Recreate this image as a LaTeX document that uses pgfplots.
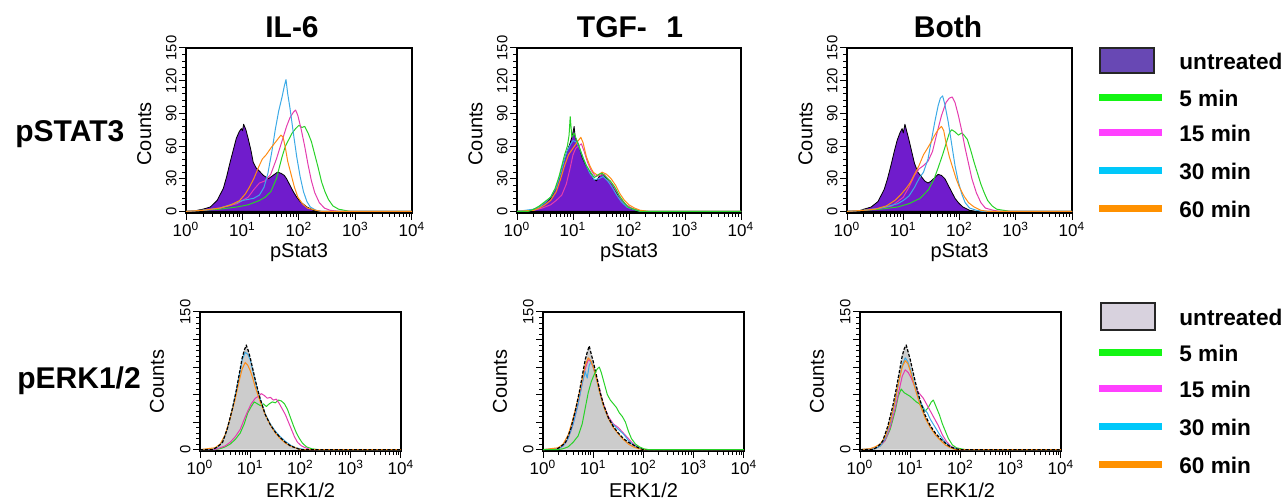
\documentclass[border=0pt]{standalone}
\usepackage{fontspec}
\setmainfont{Liberation Sans}
\usepackage{pgfplots}
\pgfplotsset{compat=1.18}
\usepackage{pgfplotstable}

\definecolor{purpfill}{RGB}{112,28,204}
\definecolor{legpurp}{RGB}{104,72,180}
\definecolor{grayfill}{RGB}{204,204,204}
\definecolor{leggray}{RGB}{216,210,222}
\definecolor{cgreen}{RGB}{40,210,40}
\definecolor{cmag}{RGB}{228,60,175}
\definecolor{ccyan}{RGB}{60,170,230}
\definecolor{corange}{RGB}{255,140,20}
\definecolor{lgreen}{RGB}{20,245,20}
\definecolor{lmag}{RGB}{255,64,255}
\definecolor{lcyan}{RGB}{0,200,250}
\definecolor{lorange}{RGB}{255,145,0}

% untreated histograms (x = log10 of intensity, y = counts)
\pgfplotstableread{
x y
0 0
0.15 0
0.2 1
0.3 2
0.43 4
0.55 10
0.66 21
0.72 32
0.78 45
0.84 57
0.89 67
0.94 73
0.98 76
1.0 74
1.02 80
1.06 75
1.1 67
1.15 56
1.19 45
1.24 40
1.28 38
1.37 33
1.46 30
1.54 33
1.62 36
1.68 35
1.74 33
1.78 30
1.84 24
1.9 18
1.96 13
2.02 9
2.14 4
2.26 1
2.35 0
4 0
}\UstatIL

\pgfplotstableread{
x y
0 0
0.2 0
0.3 2
0.4 4
0.5 8
0.6 12
0.68 20
0.75 30
0.8 40
0.85 48
0.9 56
0.95 63
0.99 70
1.02 78
1.04 68
1.08 64
1.12 57
1.16 50
1.22 43
1.3 36
1.36 30
1.42 28
1.48 33
1.54 34
1.6 30
1.66 28
1.72 23
1.8 15
1.88 10
1.96 5
2.05 2
2.15 1
2.3 0
4 0
}\UstatTGF

\pgfplotstableread{
x y
0 0
0.2 0
0.3 2
0.43 4
0.55 9
0.66 20
0.72 30
0.78 42
0.84 55
0.89 65
0.94 72
0.98 76
1.0 72
1.03 80
1.06 74
1.1 66
1.15 55
1.2 44
1.26 36
1.32 32
1.38 28
1.44 26
1.5 28
1.56 31
1.62 34
1.68 33
1.74 30
1.8 24
1.86 18
1.92 12
1.98 8
2.06 4
2.18 1
2.3 0
4 0
}\UstatBoth

\pgfplotstableread{
x y
0 0
0.25 0
0.35 3
0.45 8
0.55 24
0.65 46
0.72 64
0.78 82
0.84 100
0.88 108
0.92 114
0.96 108
1.0 100
1.05 88
1.1 76
1.15 65
1.2 55
1.3 38
1.4 27
1.5 19
1.6 13
1.7 8
1.8 4
1.9 2
2.0 0
4 0
}\UerkIL

\pgfplotstableread{
x y
0 0
0.25 0
0.35 3
0.45 8
0.55 22
0.65 44
0.72 62
0.78 80
0.84 98
0.88 106
0.92 113
0.96 104
1.0 96
1.05 84
1.1 72
1.15 60
1.2 50
1.3 35
1.4 25
1.5 18
1.6 12
1.7 8
1.8 5
1.9 2
2.0 0
4 0
}\UerkTGF

\pgfplotstableread{
x y
0 0
0.25 0
0.35 3
0.45 9
0.55 25
0.65 47
0.72 66
0.78 84
0.84 102
0.88 110
0.92 114
0.96 106
1.0 98
1.05 86
1.1 74
1.15 63
1.2 53
1.3 37
1.4 26
1.5 18
1.6 12
1.7 7
1.8 3
1.9 1
2.0 0
4 0
}\UerkBoth

\pgfplotsset{
  flow/.style={
    scale only axis, anchor=south west,
    xmin=0, xmax=4, ymin=-1.5, ymax=150,
    axis line style={line width=0.9pt},
    tick align=outside, xtick pos=left, ytick pos=left,
    xtick={0,1,2,3,4},
    xticklabels={10\textsuperscript{0},10\textsuperscript{1},10\textsuperscript{2},10\textsuperscript{3},10\textsuperscript{4}},
    minor xtick={0.301,0.477,0.602,0.699,0.778,0.845,0.903,0.954,
      1.301,1.477,1.602,1.699,1.778,1.845,1.903,1.954,
      2.301,2.477,2.602,2.699,2.778,2.845,2.903,2.954,
      3.301,3.477,3.602,3.699,3.778,3.845,3.903,3.954},
    major tick length=3.5pt, minor tick length=2pt,
    every tick/.style={black, line width=0.5pt},
    /pgf/number format/assume math mode=true,
    xticklabel style={font=\fontsize{8.5}{9}\selectfont, inner sep=1pt},
    yticklabel style={font=\fontsize{7.4}{8}\selectfont, rotate=90, anchor=south, inner sep=1pt},
    label style={font=\fontsize{8.5}{9}\selectfont},
    ylabel={Counts},
    every axis plot/.append style={line width=0.5pt, line join=round},
  },
  toprow/.style={flow, width=113pt, height=82.5pt,
    ytick={0,30,60,90,120,150}, minor y tick num=4, xlabel={pStat3},
    every axis y label/.style={at={(axis description cs:-0.185,0.48)}, rotate=90, anchor=center},
    every axis x label/.style={at={(axis description cs:0.5,-0.242)}, anchor=center},
  },
  botrow/.style={flow, width=100.5pt, height=69.5pt,
    ytick={0,30,60,90,120,150}, yticklabels={0,,,,,150}, minor y tick num=4, xlabel={ERK1/2},
    every axis y label/.style={at={(axis description cs:-0.214,0.5)}, rotate=90, anchor=center},
    every axis x label/.style={at={(axis description cs:0.5,-0.28)}, anchor=center},
  },
}

\begin{document}
\begin{tikzpicture}
\path[use as bounding box] (0,0) rectangle (643pt,251pt);

% ---------- pSTAT3 row ----------
\begin{axis}[toprow, at={(93pt,144.5pt)}]
\addplot[fill=purpfill, draw=black, line width=0.4pt] table {\UstatIL} \closedcycle;
\addplot[cgreen] coordinates {(0,0)(0.3,1)(0.6,2)(0.9,4)(1.1,6)(1.3,10)(1.4,13)(1.5,18)(1.6,30)(1.7,50)(1.76,60)(1.82,66)(1.88,72)(1.94,76)(2.0,79)(2.05,77)(2.1,78)(2.16,72)(2.22,64)(2.28,52)(2.34,40)(2.4,27)(2.46,18)(2.52,11)(2.6,5)(2.7,2)(2.8,1)(2.9,0)(4,0)};
\addplot[cmag] coordinates {(0,0)(0.3,1)(0.6,3)(0.9,7)(1.1,13)(1.2,20)(1.3,26)(1.4,28)(1.5,34)(1.6,48)(1.66,58)(1.72,68)(1.78,78)(1.84,86)(1.9,91)(1.94,93)(1.98,88)(2.04,75)(2.1,60)(2.16,43)(2.22,28)(2.28,17)(2.36,8)(2.45,3)(2.55,1)(2.7,0)(4,0)};
\addplot[ccyan] coordinates {(0,0)(0.3,1)(0.6,3)(0.9,8)(1.0,10)(1.1,11)(1.2,12)(1.3,15)(1.38,22)(1.45,35)(1.52,55)(1.58,75)(1.64,92)(1.7,105)(1.74,115)(1.77,121)(1.8,108)(1.84,95)(1.9,72)(1.96,50)(2.02,32)(2.08,18)(2.14,9)(2.2,4)(2.3,1)(2.4,0)(4,0)};
\addplot[corange] coordinates {(0,0)(0.3,1)(0.6,3)(0.8,6)(0.95,10)(1.05,16)(1.12,22)(1.2,30)(1.28,40)(1.35,48)(1.42,52)(1.5,58)(1.56,62)(1.62,66)(1.68,70)(1.72,68)(1.76,58)(1.8,46)(1.86,34)(1.92,22)(1.98,13)(2.06,7)(2.15,3)(2.3,1)(2.4,0)(4,0)};
\end{axis}

\begin{axis}[toprow, at={(258.5pt,144.5pt)}, width=112pt]
\addplot[fill=purpfill, draw=black, line width=0.4pt] table {\UstatTGF} \closedcycle;
\addplot[cmag] coordinates {(0,0)(0.3,1)(0.45,3)(0.6,6)(0.7,10)(0.8,15)(0.88,25)(0.95,40)(1.0,52)(1.05,58)(1.1,60)(1.15,62)(1.2,55)(1.26,45)(1.32,38)(1.4,32)(1.48,33)(1.56,34)(1.62,30)(1.7,25)(1.78,18)(1.86,11)(1.95,6)(2.05,3)(2.15,1)(2.3,0)(4,0)};
\addplot[ccyan] coordinates {(0,0)(0.3,2)(0.4,4)(0.5,8)(0.6,13)(0.7,22)(0.78,35)(0.85,48)(0.9,56)(0.96,62)(1.0,65)(1.05,64)(1.1,60)(1.16,52)(1.22,44)(1.3,35)(1.38,29)(1.46,30)(1.54,32)(1.62,28)(1.7,22)(1.78,15)(1.86,9)(1.96,4)(2.06,2)(2.2,0)(4,0)};
\addplot[corange] coordinates {(0,0)(0.3,1)(0.4,3)(0.5,6)(0.6,10)(0.7,18)(0.78,30)(0.85,42)(0.92,52)(1.0,58)(1.08,64)(1.14,68)(1.18,63)(1.24,50)(1.3,42)(1.36,36)(1.44,33)(1.52,36)(1.6,34)(1.68,30)(1.76,24)(1.84,16)(1.92,10)(2.0,6)(2.1,3)(2.2,1)(2.35,0)(4,0)};
\addplot[cgreen] coordinates {(0,0)(0.2,0)(0.3,2)(0.4,5)(0.5,9)(0.6,13)(0.68,21)(0.75,32)(0.8,42)(0.85,52)(0.9,60)(0.93,70)(0.95,87)(0.98,68)(1.02,72)(1.06,66)(1.12,58)(1.18,49)(1.24,42)(1.3,37)(1.38,31)(1.46,34)(1.52,35)(1.6,31)(1.68,27)(1.75,22)(1.82,15)(1.9,9)(1.98,4)(2.08,2)(2.2,0)(4,0)};
\end{axis}

\begin{axis}[toprow, at={(423.5pt,144.5pt)}, width=112.5pt]
\addplot[fill=purpfill, draw=black, line width=0.4pt] table {\UstatBoth} \closedcycle;
\addplot[cgreen] coordinates {(0,0)(0.3,1)(0.6,2)(0.9,4)(1.1,7)(1.3,12)(1.45,20)(1.55,30)(1.62,40)(1.7,52)(1.76,62)(1.82,72)(1.86,75)(1.92,73)(1.98,70)(2.04,72)(2.08,70)(2.14,66)(2.2,56)(2.26,45)(2.32,35)(2.38,25)(2.44,17)(2.5,10)(2.58,5)(2.66,2)(2.78,1)(2.9,0)(4,0)};
\addplot[cmag] coordinates {(0,0)(0.3,1)(0.6,3)(0.8,5)(1.0,13)(1.1,22)(1.2,33)(1.28,39)(1.36,42)(1.44,46)(1.52,55)(1.6,72)(1.68,88)(1.76,100)(1.82,104)(1.87,105)(1.92,100)(1.98,88)(2.04,74)(2.1,58)(2.16,44)(2.22,30)(2.3,17)(2.38,8)(2.46,3)(2.6,1)(2.7,0)(4,0)};
\addplot[ccyan] coordinates {(0,0)(0.3,1)(0.6,3)(0.9,7)(1.0,10)(1.1,14)(1.2,22)(1.28,30)(1.36,36)(1.44,48)(1.5,65)(1.56,82)(1.62,97)(1.66,104)(1.7,106)(1.74,98)(1.8,82)(1.86,62)(1.92,42)(1.98,27)(2.04,16)(2.1,8)(2.18,3)(2.3,1)(2.4,0)(4,0)};
\addplot[corange] coordinates {(0,0)(0.3,1)(0.5,2)(0.7,5)(0.85,10)(0.95,15)(1.05,21)(1.12,26)(1.2,34)(1.28,42)(1.36,52)(1.42,57)(1.5,64)(1.56,70)(1.62,75)(1.68,78)(1.72,74)(1.76,63)(1.82,50)(1.88,40)(1.94,30)(2.0,22)(2.08,14)(2.16,8)(2.26,4)(2.38,1)(2.5,0)(4,0)};
\end{axis}

% ---------- pERK1/2 row ----------
\begin{axis}[botrow, at={(100pt,25.5pt)}]
\addplot[fill=grayfill, draw=none] table {\UerkIL} \closedcycle;
\addplot[cgreen] coordinates {(0,0)(0.3,0)(0.4,1)(0.5,3)(0.6,6)(0.7,11)(0.8,18)(0.88,28)(0.95,40)(1.02,47)(1.08,52)(1.14,50)(1.2,48)(1.26,50)(1.32,47)(1.38,50)(1.44,52)(1.5,51)(1.56,54)(1.62,53)(1.68,50)(1.74,44)(1.8,35)(1.86,26)(1.92,18)(1.98,12)(2.04,7)(2.12,3)(2.22,1)(2.35,0)(4,0)};
\addplot[cmag] coordinates {(0,0)(0.3,0)(0.4,2)(0.5,4)(0.6,8)(0.7,14)(0.8,22)(0.88,33)(0.95,42)(1.02,50)(1.1,56)(1.16,58)(1.22,61)(1.28,59)(1.34,56)(1.4,57)(1.46,54)(1.52,55)(1.58,50)(1.64,44)(1.7,38)(1.76,30)(1.82,22)(1.88,14)(1.94,8)(2.02,4)(2.1,2)(2.2,0)(4,0)};
\addplot[ccyan] coordinates {(0,0)(0.3,1)(0.4,5)(0.5,15)(0.6,34)(0.7,58)(0.78,80)(0.84,98)(0.9,106)(0.95,104)(1.0,98)(1.05,86)(1.1,74)(1.2,55)(1.3,39)(1.4,28)(1.5,20)(1.6,14)(1.7,9)(1.8,5)(1.9,2)(2.0,1)(2.1,0)(4,0)};
\addplot[corange] coordinates {(0,0)(0.3,2)(0.4,6)(0.5,16)(0.6,34)(0.7,55)(0.78,75)(0.84,88)(0.9,95)(0.95,92)(1.0,86)(1.05,78)(1.1,68)(1.2,52)(1.3,38)(1.4,27)(1.5,18)(1.6,12)(1.7,7)(1.8,4)(1.9,2)(2.0,0)(4,0)};
\addplot[black, dash pattern=on 1.6pt off 0.8pt, line width=0.6pt] table {\UerkIL};
\end{axis}

\begin{axis}[botrow, at={(271.5pt,25.5pt)}]
\addplot[fill=grayfill, draw=none] table {\UerkTGF} \closedcycle;
\addplot[cmag] coordinates {(0,0)(0.3,1)(0.4,4)(0.5,12)(0.6,28)(0.7,50)(0.78,72)(0.84,88)(0.9,98)(0.95,96)(1.0,90)(1.06,80)(1.12,66)(1.2,50)(1.3,36)(1.4,28)(1.5,24)(1.6,18)(1.7,12)(1.8,6)(1.9,2)(2.0,0)(4,0)};
\addplot[ccyan] coordinates {(0,0)(0.3,1)(0.4,4)(0.5,12)(0.6,28)(0.7,50)(0.78,72)(0.84,85)(0.88,78)(0.92,92)(0.96,96)(1.0,90)(1.06,78)(1.12,64)(1.2,48)(1.3,34)(1.4,27)(1.5,22)(1.6,17)(1.7,10)(1.8,5)(1.9,2)(2.0,0)(4,0)};
\addplot[corange] coordinates {(0,0)(0.3,2)(0.4,6)(0.5,16)(0.6,34)(0.7,56)(0.78,76)(0.84,92)(0.9,100)(0.95,97)(1.0,90)(1.06,78)(1.12,64)(1.2,48)(1.3,34)(1.4,24)(1.5,17)(1.6,11)(1.7,6)(1.8,3)(1.9,1)(2.0,0)(4,0)};
\addplot[black, dash pattern=on 1.6pt off 0.8pt, line width=0.6pt] table {\UerkTGF};
\addplot[cgreen] coordinates {(0,0)(0.3,0)(0.4,1)(0.5,3)(0.6,8)(0.7,15)(0.78,28)(0.85,48)(0.9,62)(0.96,74)(1.02,82)(1.08,88)(1.12,90)(1.16,84)(1.22,72)(1.28,60)(1.34,54)(1.4,50)(1.46,46)(1.52,40)(1.58,36)(1.64,30)(1.7,20)(1.76,12)(1.84,6)(1.92,3)(2.0,1)(2.1,0)(4,0)};
\end{axis}

\begin{axis}[botrow, at={(430pt,25.5pt)}]
\addplot[fill=grayfill, draw=none] table {\UerkBoth} \closedcycle;
\addplot[cgreen] coordinates {(0,0)(0.3,1)(0.4,4)(0.5,10)(0.6,22)(0.7,42)(0.76,58)(0.82,66)(0.88,62)(0.94,60)(1.0,58)(1.06,55)(1.12,52)(1.18,50)(1.24,46)(1.3,42)(1.36,46)(1.42,52)(1.46,54)(1.52,46)(1.58,38)(1.64,28)(1.7,20)(1.76,12)(1.84,5)(1.92,2)(2.0,1)(2.1,0)(4,0)};
\addplot[cmag] coordinates {(0,0)(0.3,1)(0.4,4)(0.5,10)(0.6,24)(0.7,45)(0.78,65)(0.84,80)(0.9,87)(0.96,84)(1.02,78)(1.08,70)(1.14,64)(1.2,60)(1.26,56)(1.32,50)(1.4,42)(1.48,34)(1.56,26)(1.64,16)(1.72,9)(1.8,4)(1.9,1)(2.0,0)(4,0)};
\addplot[ccyan] coordinates {(0,0)(0.3,1)(0.4,4)(0.5,12)(0.6,28)(0.7,52)(0.78,76)(0.84,92)(0.9,100)(0.95,96)(1.0,88)(1.06,76)(1.12,64)(1.2,52)(1.28,44)(1.34,40)(1.4,33)(1.5,24)(1.6,15)(1.7,8)(1.8,3)(1.9,1)(2.0,0)(4,0)};
\addplot[corange] coordinates {(0,0)(0.2,1)(0.3,3)(0.4,6)(0.5,14)(0.6,30)(0.7,54)(0.78,76)(0.84,90)(0.9,97)(0.95,94)(1.0,86)(1.06,74)(1.12,62)(1.2,48)(1.3,34)(1.4,24)(1.5,16)(1.6,10)(1.7,5)(1.8,2)(1.9,0)(4,0)};
\addplot[black, dash pattern=on 1.6pt off 0.8pt, line width=0.6pt] table {\UerkBoth};
\end{axis}

% ---------- titles and row labels ----------
\begin{scope}[every node/.style={font=\fontsize{15}{18}\selectfont\bfseries, inner sep=0pt}]
\node at (146pt,237.5pt) {IL-6};
\node at (315pt,237.5pt) {TGF-\hspace{0.65em}1};
\node at (474pt,237.5pt) {Both};
\node[anchor=base west] at (7.5pt,180pt) {pSTAT3};
\node[anchor=base west] at (8.5pt,56.5pt) {pERK1/2};
\end{scope}

% ---------- legends ----------
\begin{scope}[every node/.style={font=\fontsize{11.3}{13}\selectfont\bfseries, anchor=west, inner sep=0pt}]
\filldraw[fill=legpurp, draw=black!85, line width=0.8pt] (550pt,214.5pt) rectangle (577pt,227pt);
\node at (589.5pt,220.5pt) {untreated};
\draw[lgreen, line width=3.5pt] (549.5pt,202pt) -- (581pt,202pt);
\node at (589.5pt,202pt) {5 min};
\draw[lmag, line width=3.5pt] (549.5pt,184.5pt) -- (581pt,184.5pt);
\node at (589.5pt,184.5pt) {15 min};
\draw[lcyan, line width=3.5pt] (549.5pt,165.5pt) -- (581pt,165.5pt);
\node at (589.5pt,165.5pt) {30 min};
\draw[lorange, line width=3.5pt] (549.5pt,146.5pt) -- (581pt,146.5pt);
\node at (589.5pt,146.5pt) {60 min};

\filldraw[fill=leggray, draw=black!85, line width=0.8pt] (550.5pt,86pt) rectangle (577.5pt,99.5pt);
\node at (589.5pt,92.5pt) {untreated};
\draw[lgreen, line width=3.5pt] (549.5pt,74.5pt) -- (581pt,74.5pt);
\node at (589.5pt,74.5pt) {5 min};
\draw[lmag, line width=3.5pt] (549.5pt,56.5pt) -- (581pt,56.5pt);
\node at (589.5pt,56.5pt) {15 min};
\draw[lcyan, line width=3.5pt] (549.5pt,37.5pt) -- (581pt,37.5pt);
\node at (589.5pt,37.5pt) {30 min};
\draw[lorange, line width=3.5pt] (549.5pt,18.5pt) -- (581pt,18.5pt);
\node at (589.5pt,18.5pt) {60 min};
\end{scope}
\end{tikzpicture}
\end{document}
